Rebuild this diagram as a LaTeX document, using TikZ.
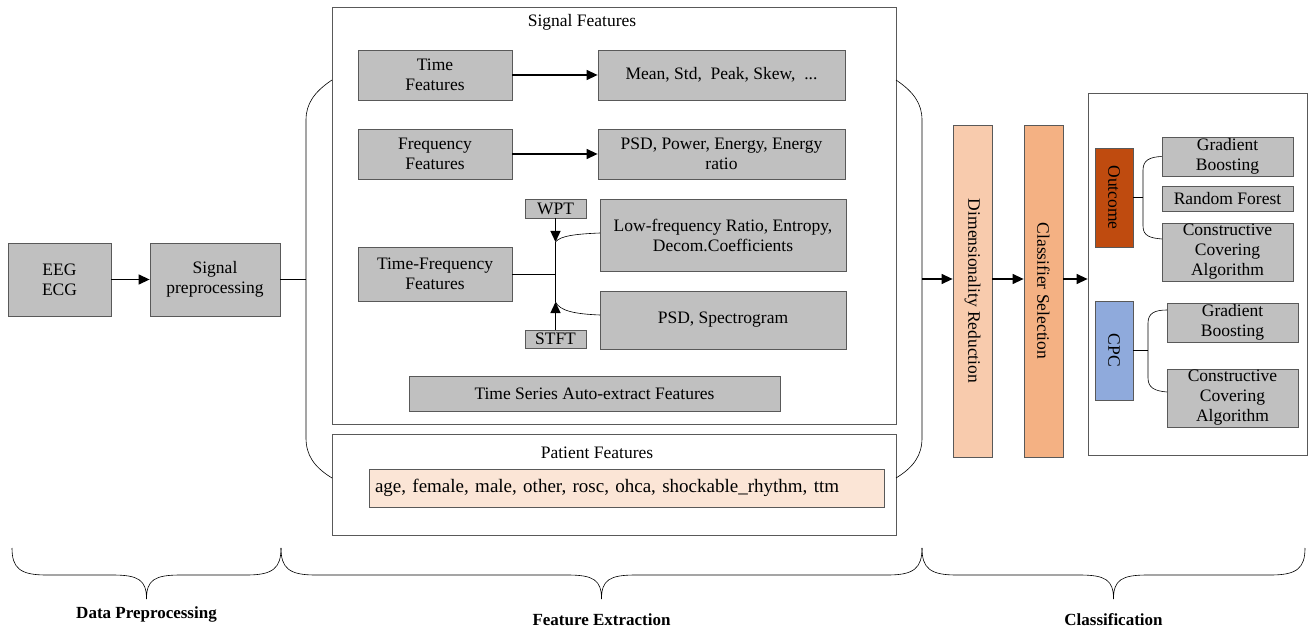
\documentclass[tikz,border=0pt]{standalone}
\usepackage{fontspec}
\setmainfont{Liberation Serif}
\usetikzlibrary{arrows.meta}

\definecolor{boxgray}{HTML}{C0C0C0}
\definecolor{edgegray}{HTML}{595959}
\definecolor{patpeach}{HTML}{FBE5D6}
\definecolor{dimpeach}{HTML}{F8CBAD}
\definecolor{selorange}{HTML}{F4B183}
\definecolor{outrust}{HTML}{BF4B0F}
\definecolor{cpcblue}{HTML}{8FAADC}

\begin{document}
\begin{tikzpicture}[x=1pt,y=-1pt,
		every node/.style={font=\fontsize{17.5}{20}\selectfont},
		graybox/.style={draw=edgegray,fill=boxgray,line width=0.8pt,inner sep=0pt,align=center},
		framebox/.style={draw=edgegray,line width=0.8pt,inner sep=0pt},
		stagebar/.style={draw=edgegray,line width=0.8pt,inner sep=0pt},
		flow/.style={line width=1.3pt,-{Triangle[length=11pt,width=10pt]}},
		link/.style={line width=0.8pt},
		thinlink/.style={line width=0.6pt}]
		
		\useasboundingbox (0,0) rectangle (1309,631);
		
		% Preprocesamiento
		\node[graybox,minimum width=103pt,minimum height=73pt] (eeg) at (59.5,279.5) {EEG\\ECG};
		\node[graybox,minimum width=130pt,minimum height=73pt] (sigpre) at (215,279.5) {Signal\\preprocessing};
		\draw[flow] (eeg) -- (sigpre);
		
		% Marco de extraccion
		\node[framebox,minimum width=564pt,minimum height=417pt] (sigbox) at (614,215.5) {};
		\node[framebox,minimum width=564pt,minimum height=101pt] (patbox) at (614,484.5) {};
		\node (sigtitle) at (582,22) {Signal Features};
		\node (pattitle) at (597,453) {Patient Features};
		\draw[thinlink] (332,80) .. controls (314,92) and (306,104) .. (306,120) -- (306,438)
			.. controls (306,455) and (314,467) .. (332,478);
		\draw[thinlink] (896,80) .. controls (914,92) and (922,104) .. (922,120) -- (922,438)
			.. controls (922,455) and (914,467) .. (896,478);
		\coordinate (fxin) at (306,279.5);
		\coordinate (fxout) at (922,279);
		\draw[link] (sigpre) -- (fxin);
		
		% Caracteristicas de la senal
		\node[graybox,minimum width=154pt,minimum height=50pt] (timef) at (435,75) {Time\\Features};
		\node[graybox,minimum width=247pt,minimum height=50pt] (timeout) at (721.5,75) {Mean, Std,~ Peak, Skew,~ ...};
		\node[graybox,minimum width=154pt,minimum height=50pt] (freqf) at (435,154) {Frequency\\Features};
		\node[graybox,minimum width=247pt,minimum height=50pt] (freqout) at (721.5,154) {PSD, Power, Energy, Energy\\ratio};
		\draw[flow] (timef) -- (timeout);
		\draw[flow] (freqf) -- (freqout);
		
		% Tiempo-frecuencia
		\node[graybox,minimum width=154pt,minimum height=54pt] (tff) at (435,274) {Time-Frequency\\Features};
		\node[graybox,minimum width=61pt,minimum height=19pt] (wpt) at (555.5,208.5) {WPT};
		\node[graybox,minimum width=61pt,minimum height=18pt] (stft) at (555.5,339) {STFT};
		\node[graybox,minimum width=246pt,minimum height=72pt] (lowf) at (723,235) {Low-frequency Ratio, Entropy,\\Decom.Coefficients};
		\node[graybox,minimum width=246pt,minimum height=58pt] (psdsp) at (723,320) {PSD, Spectrogram};
		\coordinate (wptend) at (555.5,242);
		\coordinate (stftend) at (555.5,302);
		\coordinate (tfjoin) at (555.5,274);
		\coordinate (lowin) at (600,233);
		\coordinate (psdin) at (600,315);
		\draw[flow] (wpt) -- (wptend);
		\draw[flow] (stft) -- (stftend);
		\draw[link] (wptend) -- (stftend);
		\draw[link] (tff) -- (tfjoin);
		\draw[thinlink] (wptend) .. controls (560,236) and (575,234) .. (lowin);
		\draw[thinlink] (stftend) .. controls (560,311) and (575,314) .. (psdin);
		
		\node[graybox,minimum width=371pt,minimum height=35pt] (tsauto) at (594.5,393.5) {Time Series Auto-extract Features};
		
		% Caracteristicas del paciente
		\node[draw=edgegray,fill=patpeach,line width=0.8pt,minimum width=515pt,minimum height=38pt,
			text width=503pt,align=left,inner sep=0pt,font=\fontsize{19}{20}\selectfont] (patlist) at (626.5,488)
			{age, female, male, other, rosc, ohca, shockable\_rhythm, ttm};
		
		% Reduccion y seleccion
		\node[stagebar,fill=dimpeach,minimum width=39pt,minimum height=332pt] (dimred) at (972.5,291) {\rotatebox{-90}{Dimensionality Reduction}};
		\node[stagebar,fill=selorange,minimum width=39pt,minimum height=332pt] (clssel) at (1043.5,291) {\rotatebox{-90}{Classifier Selection}};
		\node[framebox,minimum width=219pt,minimum height=362pt] (clsbox) at (1197.5,274) {};
		\draw[flow] (fxout) -- (fxout -| dimred.west);
		\draw[flow] (fxout -| dimred.east) -- (fxout -| clssel.west);
		\draw[flow] (fxout -| clssel.east) -- (fxout -| clsbox.west);
		
		% Clasificacion: Outcome
		\node[stagebar,fill=outrust,minimum width=38pt,minimum height=99pt] (outcome) at (1114,197.5) {\rotatebox{-90}{Outcome}};
		\node[graybox,minimum width=131pt,minimum height=39pt] (gba) at (1227.5,156.5) {Gradient\\Boosting};
		\node[graybox,minimum width=131pt,minimum height=25pt] (rf) at (1227.5,198.5) {Random Forest};
		\node[graybox,minimum width=131pt,minimum height=58pt] (ccaa) at (1227.5,252) {Constructive\\Covering\\Algorithm};
		\coordinate (outjoin) at (1143,197.5);
		\coordinate (ccaain) at (1162,239);
		\draw[thinlink] (outcome) -- (outjoin);
		\draw[thinlink] (gba.west) .. controls (1150,157) and (1143,160) .. (1143,170) -- (1143,226)
			.. controls (1143,236) and (1150,238) .. (ccaain);
		
		% Clasificacion: CPC
		\node[stagebar,fill=cpcblue,minimum width=38pt,minimum height=99pt] (cpc) at (1114,350.5) {\rotatebox{-90}{CPC}};
		\node[graybox,minimum width=131pt,minimum height=39pt] (gbb) at (1232.5,322.5) {Gradient\\Boosting};
		\node[graybox,minimum width=131pt,minimum height=58pt] (ccab) at (1232.5,398) {Constructive\\Covering\\Algorithm};
		\coordinate (cpcjoin) at (1148,350.5);
		\coordinate (gbbin) at (1167,310);
		\coordinate (ccabin) at (1167,392);
		\draw[thinlink] (cpc) -- (cpcjoin);
		\draw[thinlink] (gbbin) .. controls (1155,310) and (1148,313) .. (1148,323) -- (1148,378)
			.. controls (1148,388) and (1155,391) .. (ccabin);
		
		% Llaves de las etapas
		\foreach \xa/\xb/\nom/\ly/\lbl in {12/281/dataprep/614/Data Preprocessing,
				281/922/featext/620/Feature Extraction,
				922/1305/classif/620/Classification}{
			\pgfmathsetmacro{\xm}{(\xa+\xb)/2}
			\draw[thinlink] (\xa,548) .. controls (\xa,568) and (\xa+8,575) .. (\xa+34,575)
				-- (\xm-34,575) .. controls (\xm-8,575) and (\xm,580) .. (\xm,599)
				.. controls (\xm,580) and (\xm+8,575) .. (\xm+34,575)
				-- (\xb-34,575) .. controls (\xb-8,575) and (\xb,568) .. (\xb,548);
			\node[font=\fontsize{17}{20}\selectfont\bfseries] (\nom) at (\xm,\ly) {\lbl};
		}
		
	\end{tikzpicture}
\end{document}
